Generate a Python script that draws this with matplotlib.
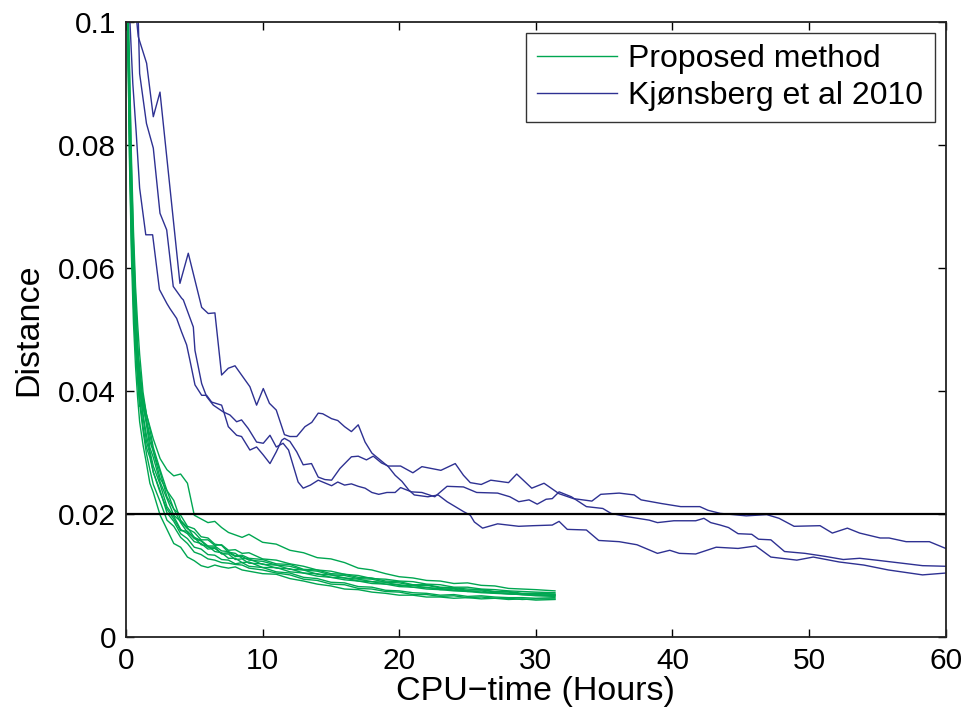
import numpy as np
import matplotlib
matplotlib.use('Agg')
from matplotlib import pyplot as plt

# shared sampling times (hours) of the proposed-method runs
green_hours = [0.1, 0.25, 0.4, 0.55, 0.7, 0.85, 1.0, 1.25, 1.5, 1.75, 2.0, 2.5, 3.0, 3.5, 4.0, 4.5,
               5.0, 5.5, 6.0, 6.5, 7.0, 7.5, 8.0, 8.5, 9.0, 10, 11, 12, 13, 14, 15, 16, 17, 18, 19, 20,
               21, 22, 23, 24, 25, 26, 27, 28, 29, 30, 31.4]

run_g1 = [0.106, 0.088, 0.070, 0.057, 0.049, 0.042, 0.0375, 0.0390, 0.0362, 0.0342, 0.0322, 0.0290, 0.0272, 0.0262,
          0.0265, 0.0250, 0.0198, 0.0192, 0.0186, 0.0188, 0.0178, 0.0170, 0.0166, 0.0162, 0.0167, 0.0154, 0.0151,
          0.0141, 0.0137, 0.0129, 0.0127, 0.0121, 0.0112, 0.0109, 0.0103, 0.0098, 0.0096, 0.0092, 0.0091, 0.0087,
          0.0088, 0.0084, 0.0083, 0.0079, 0.0078, 0.0077, 0.0075]
run_g2 = [0.104, 0.078, 0.062, 0.051, 0.044, 0.039, 0.035, 0.0312, 0.0282, 0.0250, 0.0235, 0.0198, 0.0175, 0.0152,
          0.0146, 0.0130, 0.0124, 0.0116, 0.0113, 0.0117, 0.0114, 0.0112, 0.0114, 0.0109, 0.0107, 0.0103, 0.0102,
          0.0095, 0.0091, 0.0086, 0.0083, 0.0078, 0.0077, 0.0073, 0.0071, 0.0068, 0.0068, 0.0065, 0.0065, 0.0063,
          0.0064, 0.0062, 0.0063, 0.0061, 0.0062, 0.0060, 0.0061]
run_g3 = [0.105, 0.082, 0.066, 0.054, 0.047, 0.042, 0.038, 0.0335, 0.0298, 0.0272, 0.0248, 0.0220, 0.0190, 0.0180,
          0.0162, 0.0152, 0.0138, 0.0134, 0.0127, 0.0125, 0.0121, 0.0120, 0.0118, 0.0117, 0.0112, 0.0109, 0.0104,
          0.0101, 0.0094, 0.0092, 0.0086, 0.0085, 0.0079, 0.0078, 0.0074, 0.0073, 0.0069, 0.0069, 0.0066, 0.0067,
          0.0064, 0.0065, 0.0063, 0.0063, 0.0061, 0.0062, 0.0062]
run_g4 = [0.102, 0.080, 0.064, 0.055, 0.048, 0.043, 0.039, 0.0342, 0.0308, 0.0292, 0.0268, 0.0238, 0.0202, 0.0188,
          0.0168, 0.0160, 0.0146, 0.0143, 0.0134, 0.0133, 0.0126, 0.0125, 0.0119, 0.0121, 0.0115, 0.0113, 0.0106,
          0.0104, 0.0097, 0.0095, 0.0089, 0.0088, 0.0082, 0.0081, 0.0076, 0.0075, 0.0072, 0.0071, 0.0068, 0.0069,
          0.0066, 0.0067, 0.0065, 0.0064, 0.0064, 0.0063, 0.0064]
run_g5 = [0.107, 0.092, 0.076, 0.064, 0.055, 0.048, 0.043, 0.0378, 0.0345, 0.0308, 0.0292, 0.0252, 0.0225, 0.0198,
          0.0188, 0.0176, 0.0170, 0.0158, 0.0158, 0.0149, 0.0150, 0.0141, 0.0142, 0.0136, 0.0137, 0.0127, 0.0125,
          0.0119, 0.0115, 0.0109, 0.0107, 0.0102, 0.0100, 0.0095, 0.0094, 0.0091, 0.0090, 0.0086, 0.0085, 0.0081,
          0.0081, 0.0078, 0.0077, 0.0075, 0.0074, 0.0073, 0.0072]
run_g6 = [0.105, 0.085, 0.070, 0.058, 0.050, 0.044, 0.040, 0.0362, 0.0328, 0.0302, 0.0278, 0.0248, 0.0212, 0.0196,
          0.0175, 0.0168, 0.0155, 0.0152, 0.0143, 0.0144, 0.0136, 0.0137, 0.0131, 0.0131, 0.0125, 0.0123, 0.0117,
          0.0115, 0.0109, 0.0107, 0.0101, 0.0100, 0.0095, 0.0094, 0.0089, 0.0088, 0.0084, 0.0084, 0.0080, 0.0079,
          0.0076, 0.0077, 0.0073, 0.0073, 0.0070, 0.0071, 0.0069]
run_g7 = [0.103, 0.086, 0.072, 0.062, 0.054, 0.047, 0.042, 0.0372, 0.0352, 0.0318, 0.0302, 0.0258, 0.0238, 0.0208,
          0.0198, 0.0180, 0.0176, 0.0163, 0.0161, 0.0151, 0.0149, 0.0138, 0.0136, 0.0128, 0.0127, 0.0118, 0.0117,
          0.0110, 0.0109, 0.0102, 0.0101, 0.0096, 0.0094, 0.0090, 0.0089, 0.0084, 0.0084, 0.0080, 0.0079, 0.0076,
          0.0075, 0.0073, 0.0072, 0.0070, 0.0069, 0.0068, 0.0067]
run_g8 = [0.108, 0.094, 0.078, 0.066, 0.057, 0.051, 0.046, 0.0398, 0.0362, 0.0338, 0.0308, 0.0272, 0.0238, 0.0222,
          0.0190, 0.0178, 0.0162, 0.0157, 0.0148, 0.0148, 0.0140, 0.0139, 0.0132, 0.0133, 0.0128, 0.0126, 0.0119,
          0.0118, 0.0110, 0.0109, 0.0103, 0.0102, 0.0097, 0.0096, 0.0091, 0.0090, 0.0085, 0.0085, 0.0081, 0.0080,
          0.0078, 0.0077, 0.0074, 0.0074, 0.0071, 0.0071, 0.0070]
run_g9 = [0.104, 0.084, 0.068, 0.057, 0.049, 0.045, 0.041, 0.0358, 0.0318, 0.0298, 0.0268, 0.0235, 0.0208, 0.0192,
          0.0173, 0.0172, 0.0160, 0.0156, 0.0146, 0.0146, 0.0135, 0.0135, 0.0126, 0.0127, 0.0120, 0.0119, 0.0112,
          0.0111, 0.0104, 0.0103, 0.0097, 0.0096, 0.0091, 0.0090, 0.0086, 0.0085, 0.0081, 0.0081, 0.0077, 0.0078,
          0.0074, 0.0075, 0.0071, 0.0071, 0.0069, 0.0069, 0.0068]
run_g10 = [0.106, 0.087, 0.071, 0.059, 0.052, 0.046, 0.044, 0.0385, 0.0352, 0.0328, 0.0302, 0.0268, 0.0228, 0.0208,
           0.0186, 0.0170, 0.0162, 0.0150, 0.0148, 0.0139, 0.0137, 0.0128, 0.0128, 0.0121, 0.0122, 0.0113, 0.0113,
           0.0106, 0.0104, 0.0099, 0.0097, 0.0093, 0.0091, 0.0087, 0.0086, 0.0082, 0.0081, 0.0078, 0.0077, 0.0075,
           0.0074, 0.0072, 0.0071, 0.0070, 0.0069, 0.0067, 0.0066]

# Kjønsberg et al 2010 runs, (hours, distance)
run_b1 = [(0.2, 0.106), (0.25, 0.102), (0.5, 0.090), (0.75, 0.082), (1.0, 0.073), (1.45, 0.0654), (1.95, 0.0654),
          (2.45, 0.0565), (3.0, 0.0542), (3.22, 0.0534), (3.71, 0.0518), (4.07, 0.0496), (4.44, 0.0475), (4.68, 0.0450),
          (5.05, 0.0410), (5.54, 0.0393), (5.9, 0.0393), (6.27, 0.0382), (7.0, 0.0377), (7.12, 0.0369), (7.49, 0.0342),
          (8.1, 0.0328), (8.46, 0.0326), (9.07, 0.0304), (9.56, 0.0309), (10.05, 0.0296), (10.54, 0.0282), (11.0, 0.0301),
          (11.4, 0.0320), (11.6, 0.0323), (12.0, 0.0318), (12.5, 0.0301), (12.97, 0.0280), (13.58, 0.0282),
          (14.07, 0.0260), (14.56, 0.0256), (15.05, 0.0255), (15.66, 0.0274), (16.5, 0.0293), (17.0, 0.0294),
          (17.6, 0.0288), (18.1, 0.0294), (18.7, 0.0283), (19.2, 0.0278), (20.1, 0.0278), (21.0, 0.0267),
          (21.66, 0.0277), (23.05, 0.0271), (24.1, 0.0282), (24.7, 0.0263), (25.2, 0.0251), (26.0, 0.0248),
          (26.7, 0.0255), (28.0, 0.0251), (28.6, 0.0265), (29.7, 0.0242), (30.6, 0.0250), (31.7, 0.0233),
          (32.75, 0.0225), (34.1, 0.0221), (34.75, 0.0232), (36.1, 0.0234), (37.2, 0.0231), (37.7, 0.0223),
          (39.2, 0.0217), (40.6, 0.0212), (42.0, 0.0212), (42.6, 0.0206), (43.5, 0.0201), (45.4, 0.0197),
          (46.9, 0.0199), (47.8, 0.0193), (48.9, 0.0180), (50.8, 0.0181), (51.7, 0.0169), (52.8, 0.0177),
          (53.7, 0.0169), (55.2, 0.0161), (55.85, 0.0161), (57.1, 0.0155), (58.8, 0.0155), (60.0, 0.0144)]
run_b2 = [(0.8, 0.106), (0.9, 0.1003), (1.0, 0.0916), (1.5, 0.0835), (2.0, 0.0795), (2.49, 0.0689), (2.98, 0.0662),
          (3.46, 0.0570), (4.07, 0.0551), (4.2, 0.0548), (4.93, 0.0504), (5.05, 0.0466), (5.54, 0.0412), (5.9, 0.0391),
          (6.39, 0.0377), (7.12, 0.0366), (7.61, 0.0361), (8.1, 0.0350), (8.46, 0.0353), (8.95, 0.0339), (9.56, 0.0317),
          (10.05, 0.0315), (10.54, 0.0328), (11.0, 0.0309), (11.5, 0.0315), (11.9, 0.0304), (12.6, 0.0252),
          (12.97, 0.0242), (13.5, 0.0247), (14.07, 0.0255), (15.05, 0.0246), (15.5, 0.0252), (16.0, 0.0247),
          (16.5, 0.0249), (17.0, 0.0245), (17.5, 0.0242), (18.0, 0.0235), (18.5, 0.0232), (19.1, 0.0235),
          (19.7, 0.0235), (20.1, 0.0243), (20.9, 0.0236), (21.66, 0.0235), (22.6, 0.0228), (23.5, 0.0245),
          (24.7, 0.0244), (25.67, 0.0235), (27.2, 0.0234), (28.1, 0.0228), (28.75, 0.0220), (29.5, 0.0223),
          (30.1, 0.0216), (30.75, 0.0224), (31.2, 0.0225), (31.7, 0.0236), (32.6, 0.0228), (33.7, 0.0212),
          (34.9, 0.0209), (35.5, 0.0201), (36.6, 0.0196), (38.3, 0.0190), (38.9, 0.0186), (40.1, 0.0189),
          (41.7, 0.0189), (42.3, 0.0193), (42.8, 0.0186), (43.5, 0.0182), (44.1, 0.0178), (44.8, 0.0168),
          (45.8, 0.0167), (46.3, 0.0159), (47.2, 0.0158), (48.2, 0.0139), (49.7, 0.0136), (51.2, 0.0131),
          (52.5, 0.0126), (53.7, 0.0128), (54.9, 0.0125), (56.8, 0.0120), (58.3, 0.0116), (60.0, 0.0115)]
run_b3 = [(0.7, 0.106), (0.78, 0.1003), (0.9, 0.0976), (1.51, 0.0933), (2.0, 0.0846), (2.49, 0.0886), (3.95, 0.0575),
          (4.56, 0.0624), (5.54, 0.0536), (6.02, 0.0526), (6.51, 0.0527), (7.0, 0.0426), (7.49, 0.0437), (7.98, 0.0441),
          (8.46, 0.0426), (9.07, 0.0407), (9.56, 0.0377), (10.05, 0.0404), (10.5, 0.0380), (11.0, 0.0369),
          (11.6, 0.0329), (12.0, 0.0326), (12.5, 0.0326), (13.1, 0.0342), (13.6, 0.0349), (14.07, 0.0364),
          (14.4, 0.0363), (15.05, 0.0355), (15.5, 0.0352), (16.0, 0.0342), (16.5, 0.0334), (17.0, 0.0345),
          (17.5, 0.0317), (18.0, 0.0299), (18.6, 0.0288), (19.2, 0.0277), (19.7, 0.0263), (20.2, 0.0253),
          (20.7, 0.0239), (21.1, 0.0231), (22.1, 0.0228), (22.85, 0.0231), (23.5, 0.0220), (24.1, 0.0212),
          (24.7, 0.0204), (25.2, 0.0198), (25.5, 0.0187), (26.1, 0.0177), (27.2, 0.0184), (28.75, 0.0180),
          (29.8, 0.0181), (31.2, 0.0182), (31.7, 0.0188), (32.3, 0.0175), (33.7, 0.0174), (34.6, 0.0157),
          (36.1, 0.0155), (37.4, 0.0150), (38.9, 0.0136), (39.8, 0.0141), (40.5, 0.0136), (41.7, 0.0135),
          (43.2, 0.0146), (44.8, 0.0144), (46.1, 0.0148), (47.2, 0.0130), (49.1, 0.0125), (50.3, 0.0130),
          (52.2, 0.0122), (54.0, 0.0117), (55.8, 0.0109), (58.3, 0.0101), (60.0, 0.0104)]

threshold = 0.02
x_ticks = [0, 10, 20, 30, 40, 50, 60]
y_ticks = [0, 0.02, 0.04, 0.06, 0.08, 0.1]
y_tick_labels = ['0', '0.02', '0.04', '0.06', '0.08', '0.1']

GREEN = '#00a651'
BLUE = '#2e3192'

if __name__ == '__main__':
    plt.rcParams['font.family'] = ['Liberation Sans', 'DejaVu Sans']

    fig = plt.figure(figsize=(9.69, 7.21), dpi=100)
    ax = fig.add_axes([0.130, 0.1165, 0.846, 0.853])

    green_runs = [run_g1, run_g2, run_g3, run_g4, run_g5, run_g6, run_g7, run_g8, run_g9, run_g10]
    for i, run in enumerate(green_runs):
        ax.plot(green_hours, run, color=GREEN, lw=1.0,
                label='Proposed method' if i == 0 else None)

    for i, run in enumerate([run_b1, run_b2, run_b3]):
        hrs, dist = zip(*run)
        ax.plot(hrs, dist, color=BLUE, lw=1.0,
                label='Kjønsberg et al 2010' if i == 0 else None)

    ax.axhline(threshold, color='black', lw=1.6)

    ax.set_xlim(0, 60)
    ax.set_ylim(0, 0.1)
    ax.set_xticks(x_ticks)
    ax.set_yticks(y_ticks)
    ax.set_yticklabels(y_tick_labels)
    ax.tick_params(direction='in', length=6, width=1, labelsize=21.5, top=True, right=True, pad=7)
    for sp in ax.spines.values():
        sp.set_linewidth(1.3)
        sp.set_color('#222222')

    ax.set_xlabel('CPU\u2212time (Hours)', fontsize=24.5, labelpad=1)
    ax.set_ylabel('Distance', fontsize=24.5, labelpad=10)

    leg = ax.legend(loc='upper right', fontsize=23, frameon=True, fancybox=False,
                    edgecolor='black', handlelength=2.5, borderaxespad=0.35,
                    labelspacing=0.2, borderpad=0.35, handletextpad=0.35)
    leg.get_frame().set_linewidth(1.0)

    plt.savefig('out.png', dpi=100)
